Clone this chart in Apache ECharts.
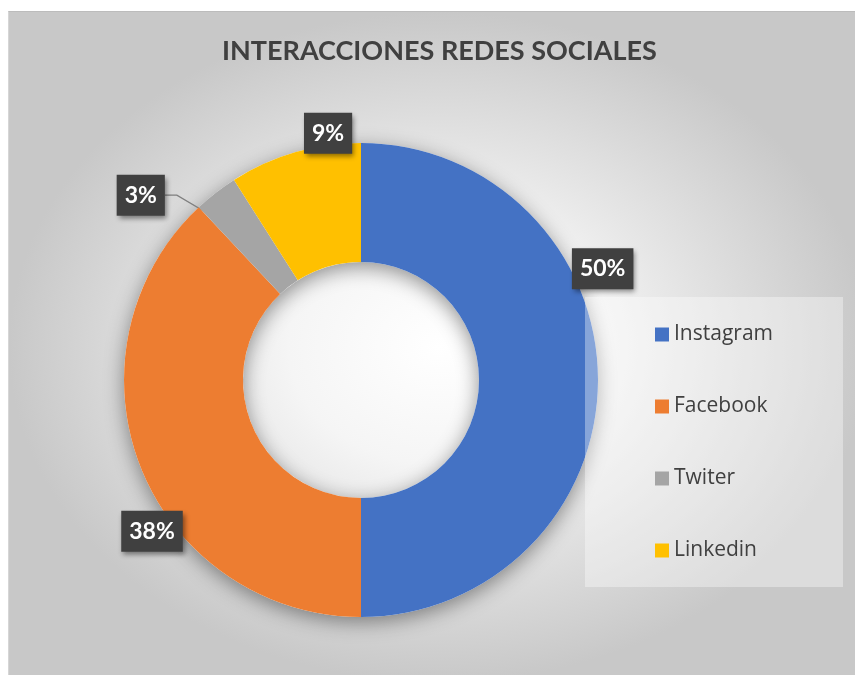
<!DOCTYPE html>
<html>
<head>
<meta charset="utf-8">
<script src="https://cdn.jsdelivr.net/npm/echarts@6/dist/echarts.min.js"></script>
<style>
  html, body { margin: 0; padding: 0; background: #ffffff; }
  #panel {
    position: absolute; left: 8px; top: 11px; width: 860px; height: 670px;
    background: radial-gradient(ellipse farthest-side at 50% 50%, #ffffff 0%, #f5f5f5 35%, #c8c8c8 100%);
    border-top: 1px solid #bcbcbc; border-left: 1px solid #d6d6d6;
  }
  #chart { position: absolute; left: 0; top: 0; width: 855px; height: 675px; }
</style>
</head>
<body>
<div id="panel"></div>
<div id="chart"></div>
<script>
// ---- data ----
const chartTitle = 'INTERACCIONES REDES SOCIALES';
const categories = ['Instagram', 'Facebook', 'Twiter', 'Linkedin'];
const values = [50, 38, 3, 9];
const colors = ['#4472C4', '#ED7D31', '#A5A5A5', '#FFC000'];

// ---- label placement (polar, relative to pie centre) ----
const labelAngle = { Instagram: 65.3, Facebook: 234.1, Twiter: 310, Linkedin: 352.4 };
const labelDist = { Instagram: 266, Facebook: 258, Twiter: 287.5, Linkedin: 249 };
const withLeader = { Twiter: true };

const CX = 361, CY = 380, R0 = 118, R1 = 237;
const FONT = 'Lato, "Open Sans", sans-serif';
const LEGEND_FONT = '"Open Sans", Lato, sans-serif';

const total = values.reduce((a, b) => a + b, 0);
const midAngles = [];
let acc = 0;
values.forEach(v => { midAngles.push((acc + v / 2) / total * 360); acc += v; });

function polar(angleDeg, d) {
  const a = angleDeg * Math.PI / 180;
  return [CX + d * Math.sin(a), CY - d * Math.cos(a)];
}

const chart = echarts.init(document.getElementById('chart'), null, { renderer: 'canvas' });

const option = {
  animation: false,
  backgroundColor: 'transparent',
  title: {
    text: chartTitle,
    left: 217,
    top: 33,
    textStyle: { fontFamily: FONT, fontSize: 27, fontWeight: 'bold', color: '#404040' }
  },
  legend: {
    data: categories,
    orient: 'vertical',
    left: 585,
    top: 297,
    icon: 'rect',
    itemWidth: 14,
    itemHeight: 14,
    itemGap: 51,
    padding: [27, 70, 26, 70],
    backgroundColor: 'rgba(255,255,255,0.36)',
    selectedMode: false,
    textStyle: { fontFamily: LEGEND_FONT, fontSize: 21, color: '#404040', lineHeight: 21 }
  },
  series: [
    {
      // shadow ring behind the donut
      type: 'pie',
      silent: true,
      center: [CX, CY],
      radius: [R0, R1],
      startAngle: 90,
      label: { show: false },
      labelLine: { show: false },
      itemStyle: { color: '#ffffff', shadowBlur: 20, shadowOffsetY: 5, shadowColor: 'rgba(0,0,0,0.42)' },
      emphasis: { disabled: true },
      data: [{ value: 1, name: '' }],
      z: 1
    },
    {
      type: 'pie',
      center: [CX, CY],
      radius: [R0, R1],
      startAngle: 90,
      clockwise: true,
      percentPrecision: 0,
      avoidLabelOverlap: false,
      emphasis: { disabled: true },
      z: 2,
      data: categories.map((n, i) => ({
        name: n,
        value: values[i],
        itemStyle: { color: colors[i] },
        labelLine: { show: !!withLeader[n] }
      })),
      label: {
        show: true,
        position: 'outside',
        formatter: '{d}%',
        color: '#ffffff',
        fontFamily: FONT,
        fontSize: 23,
        fontWeight: 'bold',
        lineHeight: 26,
        backgroundColor: '#404040',
        padding: [8, 8, 7, 8],
        shadowColor: 'rgba(0,0,0,0.45)',
        shadowBlur: 5,
        shadowOffsetX: 2,
        shadowOffsetY: 3
      },
      labelLine: {
        show: true,
        lineStyle: { color: '#7f7f7f', width: 1.3 }
      },
      labelLayout: function (params) {
        const name = categories[params.dataIndex];
        const p = polar(labelAngle[name], labelDist[name]);
        const out = { x: p[0], y: p[1], align: 'center', verticalAlign: 'middle' };
        if (withLeader[name]) {
          const w = params.labelRect.width;
          const end = polar(midAngles[params.dataIndex], (R0 + R1) / 2);
          out.labelLinePoints = [[p[0] + w / 2, p[1]], [p[0] + w / 2 + 12, p[1]], end];
        }
        return out;
      }
    }
  ]
};
chart.setOption(option);
</script>
</body>
</html>
